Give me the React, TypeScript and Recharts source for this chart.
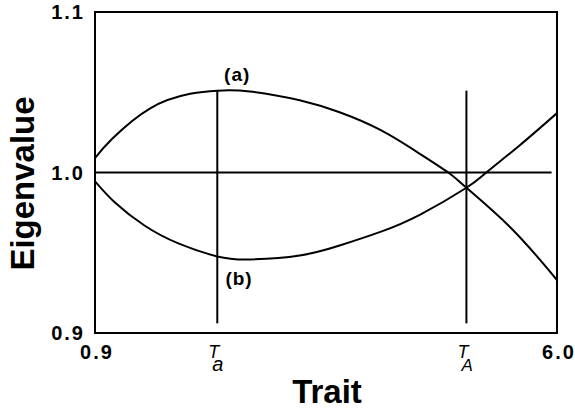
import React from "react";
import {
  LineChart,
  Line,
  XAxis,
  YAxis,
  ReferenceLine,
  ReferenceArea,
  ReferenceDot,
  Label,
} from "recharts";

// Branch (a): the upper eigenvalue curve
const traitA = [0.9, 1.09, 1.51, 1.95, 2.25, 2.61, 3.16, 3.6, 4.05, 4.49, 4.8, 5.0, 5.5, 6.0];
const eigenA = [1.009, 1.021, 1.04, 1.049, 1.051, 1.0505, 1.045, 1.0375, 1.0265, 1.0115, 1.0, 0.9905, 0.965, 0.933];

// Branch (b): the lower eigenvalue curve
const traitB = [0.9, 1.12, 1.45, 1.82, 2.25, 2.61, 3.16, 3.6, 4.05, 4.49, 5.0, 5.22, 5.59, 6.0];
const eigenB = [0.9945, 0.9813, 0.9668, 0.9558, 0.9477, 0.9458, 0.9483, 0.9545, 0.963, 0.9738, 0.9905, 1.0, 1.017, 1.037];

// Critical trait values T_a and T_A
const criticalTraits = [2.25, 5.0];
const criticalSubs = ["a", "A"];

const xTicks = [0.9, 2.25, 5.0, 6.0];
const yTicks = [0.9, 1.0, 1.1];

const FONT = "'Liberation Sans', Arial, Helvetica, sans-serif";

const zip = (xs: number[], ys: number[]) => xs.map((x, i) => ({ x, y: ys[i] }));

const curveA = zip(traitA, eigenA);
const curveB = zip(traitB, eigenB);

const YTick = ({ x, y, payload }: any) => (
  <text
    x={x - 2}
    y={y + 7}
    textAnchor="end"
    fontFamily={FONT}
    fontWeight={700}
    fontSize={20}
    letterSpacing={2}
    fill="#000"
  >
    {payload.value.toFixed(1)}
  </text>
);

const XTick = ({ x, y, payload }: any) => {
  const idx = criticalTraits.indexOf(payload.value);
  if (idx >= 0) {
    // italic T with its subscript tucked underneath
    return (
      <text x={x - 9} y={y + 17} fontFamily={FONT} fontStyle="italic" fill="#000">
        <tspan fontSize={18}>T</tspan>
        <tspan dx={-7} dy={13} fontSize={idx === 0 ? 20 : 17}>
          {criticalSubs[idx]}
        </tspan>
      </text>
    );
  }
  return (
    <text
      x={x + 2}
      y={y + 18}
      textAnchor="middle"
      fontFamily={FONT}
      fontWeight={700}
      fontSize={20}
      letterSpacing={2}
      fill="#000"
    >
      {payload.value.toFixed(1)}
    </text>
  );
};

const curveLabel = (value: string) => ({
  value,
  position: "center" as const,
  fontFamily: FONT,
  fontWeight: 700,
  fontSize: 19,
  letterSpacing: 1,
  fill: "#000",
});

const App = () => {
  return (
    <div style={{ position: "absolute", left: 0, top: 0, background: "#fff" }}>
      <LineChart
        width={575}
        height={409}
        margin={{ top: 12, right: 18, bottom: 0, left: 0 }}
      >
        <XAxis
          type="number"
          dataKey="x"
          domain={[0.9, 6.0]}
          ticks={xTicks}
          axisLine={false}
          tickLine={false}
          height={76}
          tick={<XTick />}
          allowDataOverflow
        >
          <Label
            content={({ viewBox }: any) => (
              <text
                x={viewBox.x + viewBox.width / 2 + 1}
                y={viewBox.y + 70}
                textAnchor="middle"
                fontFamily={FONT}
                fontWeight={700}
                fontSize={33}
                fill="#000"
              >
                Trait
              </text>
            )}
          />
        </XAxis>
        <YAxis
          type="number"
          domain={[0.9, 1.1]}
          ticks={yTicks}
          axisLine={false}
          tickLine={false}
          width={95}
          tick={<YTick />}
          allowDataOverflow
        >
          <Label
            content={({ viewBox }: any) => {
              const cx = viewBox.x + 22;
              const cy = viewBox.y + viewBox.height / 2 + 11;
              return (
                <text
                  x={cx}
                  y={cy}
                  transform={`rotate(-90, ${cx}, ${cy})`}
                  textAnchor="middle"
                  dominantBaseline="central"
                  fontFamily={FONT}
                  fontWeight={700}
                  fontSize={33}
                  fill="#000"
                >
                  Eigenvalue
                </text>
              );
            }}
          />
        </YAxis>

        <ReferenceArea
          x1={0.9}
          x2={6.0}
          y1={0.9}
          y2={1.1}
          fill="none"
          stroke="#000"
          strokeWidth={2}
          fillOpacity={0}
        />
        <ReferenceLine
          segment={[
            { x: 0.9, y: 1.0 },
            { x: 5.94, y: 1.0 },
          ]}
          stroke="#000"
          strokeWidth={2}
        />
        {criticalTraits.map((t) => (
          <ReferenceLine
            key={t}
            segment={[
              { x: t, y: 0.906 },
              { x: t, y: 1.051 },
            ]}
            stroke="#000"
            strokeWidth={2}
          />
        ))}

        <Line
          data={curveA}
          dataKey="y"
          type="natural"
          stroke="#000"
          strokeWidth={2}
          dot={false}
          isAnimationActive={false}
        />
        <Line
          data={curveB}
          dataKey="y"
          type="natural"
          stroke="#000"
          strokeWidth={2}
          dot={false}
          isAnimationActive={false}
        />

        <ReferenceDot
          x={2.47}
          y={1.061}
          r={0}
          fill="none"
          stroke="none"
          label={curveLabel("(a)")}
        />
        <ReferenceDot
          x={2.49}
          y={0.934}
          r={0}
          fill="none"
          stroke="none"
          label={curveLabel("(b)")}
        />
      </LineChart>
    </div>
  );
};

export default App;
